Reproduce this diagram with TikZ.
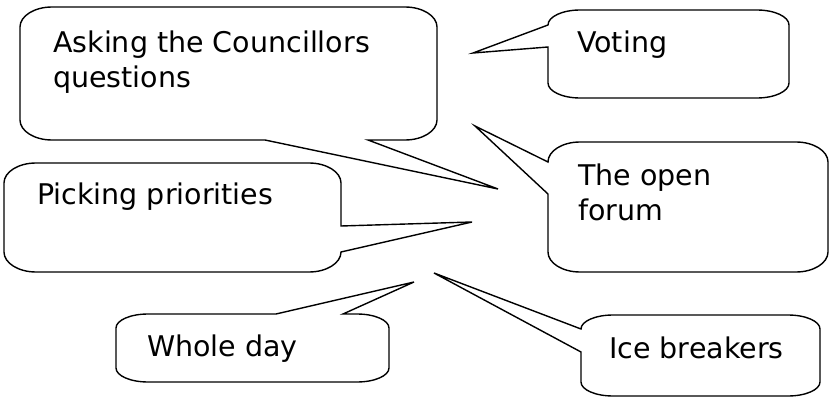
\documentclass[tikz,border=0pt]{standalone}
\usepackage{fontspec}
\setmainfont{DejaVu Sans}
% #1 L, #2 T, #3 R, #4 B, #5 ry, #6 top tail, #7 right tail, #8 bottom tail, #9 left tail
\newcommand\callout[9]{%
  \draw[cobox] ({#1+\crx},#2) #6 -- ({#3-\crx},#2)
    .. controls ({#3-0.448*\crx},#2) and (#3,{#2+0.448*#5}) .. (#3,{#2+#5}) #7 -- (#3,{#4-#5})
    .. controls (#3,{#4-0.448*#5}) and ({#3-0.448*\crx},#4) .. ({#3-\crx},#4) #8 -- ({#1+\crx},#4)
    .. controls ({#1+0.448*\crx},#4) and (#1,{#4-0.448*#5}) .. (#1,{#4-#5}) #9 -- (#1,{#2+#5})
    .. controls (#1,{#2+0.448*#5}) and ({#1+0.448*\crx},#2) .. ({#1+\crx},#2) -- cycle;}
\def\crx{32}
\tikzset{
  cobox/.style={draw=black, line width=1.4pt, fill=white},
  lbl/.style={inner sep=0pt, anchor=base west, align=left,
    font=\fontsize{28.5}{35.5}\selectfont}
}
\begin{document}
\begin{tikzpicture}[x=1pt,y=-1pt]
\useasboundingbox (0,0) rectangle (830,398);
% callout shapes
\callout{20}{7}{437}{140}{20}{}{}{-- (368,140) -- (498,189) -- (265,140)}{}
\callout{548}{10}{789}{98}{15}{}{}{}{-- (548,47) -- (473,53) -- (548,25)}
\callout{548}{142}{828}{272}{20}{}{}{}{-- (548,194) -- (475,126) -- (548,162)}
\callout{4}{163}{341}{272}{20}{}{-- (341,226) -- (472,222) -- (341,252)}{}{}
\callout{116}{314}{389}{382}{14}{-- (276,314) -- (414,282) -- (343,314)}{}{}{}
\callout{581}{315}{820}{396}{14}{}{}{}{-- (581,352) -- (434,273) -- (581,329)}
% texts (base anchor of a two-line node is the last line's baseline)
\node[lbl] (ask) at (53,88) {Asking the Councillors\\questions};
\node[lbl] (vote) at (577,53) {Voting};
\node[lbl] (forum) at (578,221) {The open\\forum};
\node[lbl] (pick) at (37,205) {Picking priorities};
\node[lbl] (whole) at (147,356) {Whole day};
\node[lbl] (ice) at (609,358) {Ice breakers};
\end{tikzpicture}
\end{document}
